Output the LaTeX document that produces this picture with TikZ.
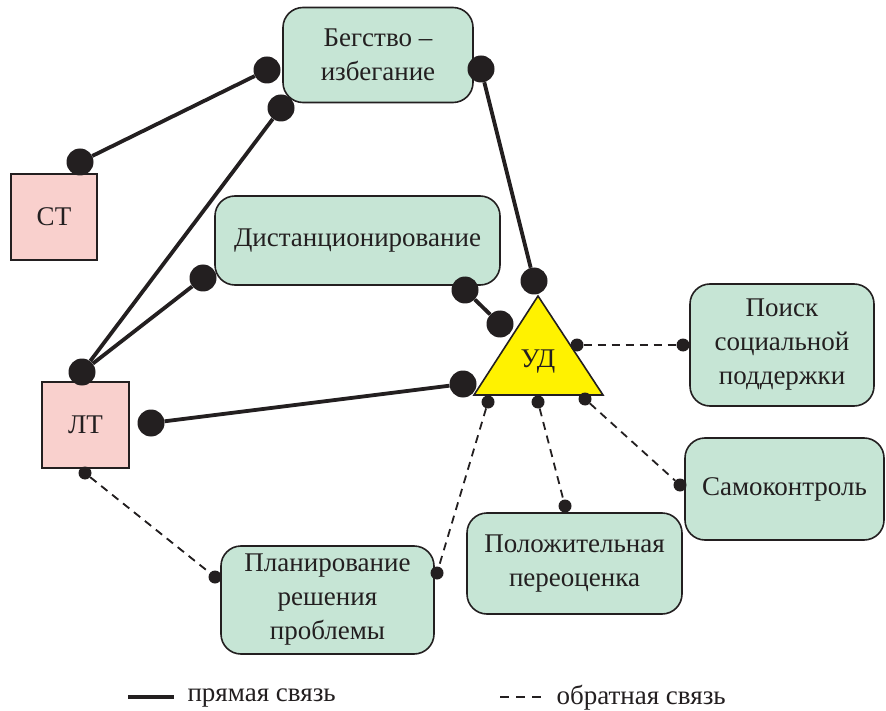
\documentclass[tikz,border=0pt]{standalone}
\usepackage{fontspec}
\setmainfont{Liberation Serif}
\definecolor{ink}{HTML}{231F20}
\definecolor{boxgreen}{HTML}{C6E5D5}
\definecolor{boxpink}{HTML}{F9D0CD}
\definecolor{trifill}{HTML}{FFF200}
\begin{document}
\begin{tikzpicture}[x=1pt,y=-1pt,
  lbl/.style={font=\fontsize{27}{34}\selectfont, text=ink},
  gbox/.style={lbl, draw=ink, line width=1.6pt, fill=boxgreen, rounded corners=20pt, align=center, inner sep=0pt},
  pbox/.style={lbl, draw=ink, line width=1.6pt, fill=boxpink, inner sep=0pt},
  bigdot/.style={circle, fill=ink, inner sep=0pt, minimum size=27pt},
  smalldot/.style={circle, fill=ink, inner sep=0pt, minimum size=13pt},
  direct/.style={draw=ink, line width=3.8pt},
  feedback/.style={draw=ink, line width=1.8pt, dash pattern=on 8pt off 6pt}]
\useasboundingbox (0,0) rectangle (886,711);
\fill[white] (0,0) rectangle (886,711);

% boxes
\node[gbox, minimum width=190pt, minimum height=95pt] (beg) at (378,55) {Бегство –\\избегание};
\node[pbox, minimum width=86pt, minimum height=86pt] (st) at (54,217) {СТ};
\node[gbox, minimum width=285pt, minimum height=89pt] (dist) at (357.5,240.5) {Дистанционирование};
\node[gbox, minimum width=184pt, minimum height=122pt] (poisk) at (782,345) {Поиск\\социальной\\поддержки};
\node[pbox, minimum width=87pt, minimum height=86pt] (lt) at (85.5,425) {ЛТ};
\node[gbox, minimum width=199pt, minimum height=102pt] (samo) at (784.5,489) {Самоконтроль};
\node[gbox, minimum width=215pt, minimum height=101pt] (pol) at (574.5,563.5) {Положительная\\переоценка};
\node[gbox, minimum width=213pt, minimum height=108pt] (plan) at (327.5,600) {Планирование\\решения\\проблемы};

% triangle
\draw[ink, line width=1.6pt, fill=trifill, line join=miter] (538,296) -- (603,395) -- (474,395) -- cycle;
\node[lbl] (ud) at (538,362) {УД};

% big dots
\node[bigdot] (b1) at (267,70) {};
\node[bigdot] (b2) at (281,108) {};
\node[bigdot] (b3) at (481,69) {};
\node[bigdot] (b4) at (203,278) {};
\node[bigdot] (b5) at (465,290) {};
\node[bigdot] (b6) at (463,384) {};
\node[bigdot] (b7) at (151,423) {};
\node[bigdot] (b8) at (82,372) {};
\node[bigdot] (b9) at (80,162) {};
\node[bigdot] (b10) at (534,281) {};
\node[bigdot] (b11) at (500,324) {};

% small dots
\node[smalldot] (s1) at (577,345) {};
\node[smalldot] (s2) at (683,345) {};
\node[smalldot] (s3) at (488,402) {};
\node[smalldot] (s4) at (437,573) {};
\node[smalldot] (s5) at (538,402) {};
\node[smalldot] (s6) at (565,506) {};
\node[smalldot] (s7) at (585,399) {};
\node[smalldot] (s8) at (680,485) {};
\node[smalldot] (s9) at (85,473) {};
\node[smalldot] (s10) at (215,577) {};

% direct connections
\draw[direct] (b9) -- (b1);
\draw[direct] (b8) -- (b2);
\draw[direct] (b8) -- (b4);
\draw[direct] (b3) -- (b10);
\draw[direct] (b5) -- (b11);
\draw[direct] (b7) -- (b6);

% feedback connections
\draw[feedback] (s1) -- (s2);
\draw[feedback] (s3) -- (s4);
\draw[feedback] (s5) -- (s6);
\draw[feedback] (s7) -- (s8);
\draw[feedback] (s9) -- (s10);

% legend
\coordinate (la) at (128,697);
\coordinate (lb) at (174,697);
\draw[direct] (la) -- (lb);
\node[lbl, anchor=west] (lt1) at (184,698) {прямая связь};
\coordinate (lc) at (500,697);
\coordinate (ld) at (543,697);
\draw[feedback, dash pattern=on 9pt off 7pt] (lc) -- (ld);
\node[lbl, anchor=west] (lt2) at (553,698) {обратная связь};
\end{tikzpicture}
\end{document}
